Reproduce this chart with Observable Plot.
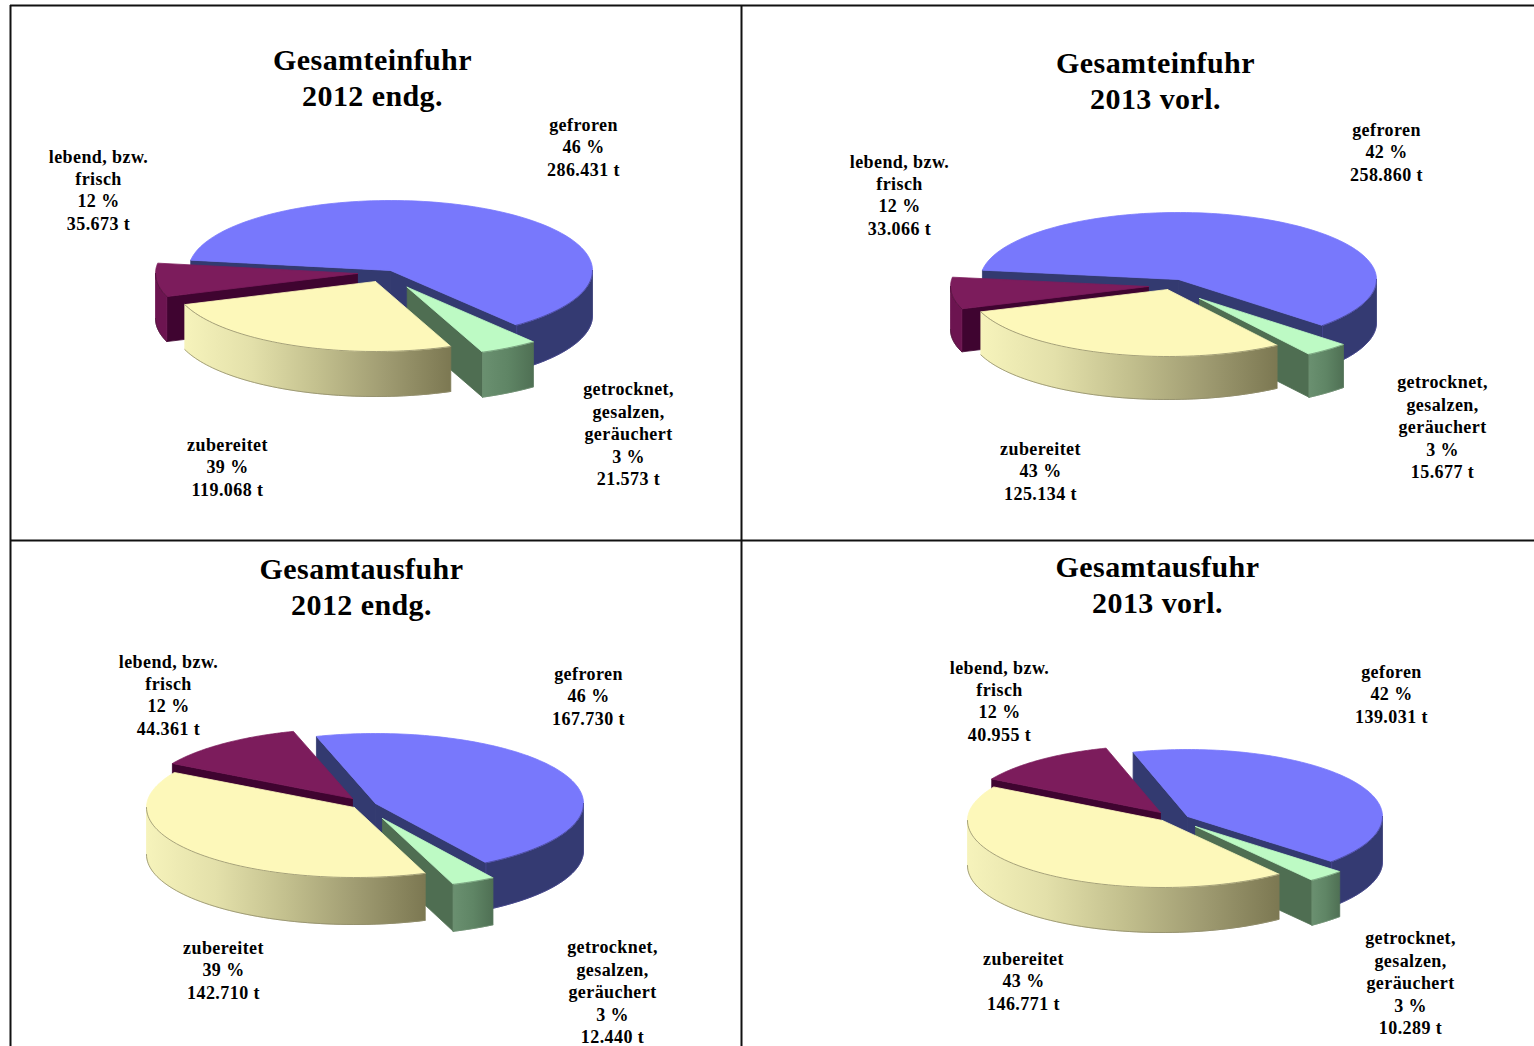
<!DOCTYPE html>
<html lang="de">
<head>
<meta charset="utf-8">
<title>Gesamteinfuhr und Gesamtausfuhr</title>
<script src="https://cdn.jsdelivr.net/npm/d3@7"></script>
<script src="https://cdn.jsdelivr.net/npm/@observablehq/plot@0.6"></script>
<style>
  html, body { margin: 0; padding: 0; background: #fff; overflow: hidden; }
  svg { display: block; }
  svg g[aria-label="text"] { letter-spacing: 0.42px; }
</style>
</head>
<body>
<div id="chart"></div>
<script>
// ---- values (tonnes), order: gefroren, getrocknet, zubereitet, lebend
const einfuhr2012 = [286431, 21573, 119068, 35673];
const einfuhr2013 = [258860, 15677, 125134, 33066];
const ausfuhr2012 = [167730, 12440, 142710, 44361];
const ausfuhr2013 = [139031, 10289, 146771, 40955];
const seriesValues = [einfuhr2012, einfuhr2013, ausfuhr2012, ausfuhr2013];

const percentA = ["46 %", "3 %", "39 %", "12 %"];
const percentB = ["42 %", "3 %", "43 %", "12 %"];
const panelPercents = [percentA, percentB, percentA, percentB];

const namesStandard = ["gefroren", "getrocknet,\ngesalzen,\ngeräuchert", "zubereitet", "lebend, bzw.\nfrisch"];
const namesTypo = ["geforen", "getrocknet,\ngesalzen,\ngeräuchert", "zubereitet", "lebend, bzw.\nfrisch"];
const panelNames = [namesStandard, namesStandard, namesStandard, namesTypo];

const panelTitles = ["Gesamteinfuhr\n2012 endg.", "Gesamteinfuhr\n2013 vorl.", "Gesamtausfuhr\n2012 endg.", "Gesamtausfuhr\n2013 vorl."];

// ---- layout, in the picture's own coordinate system
const titleAnchors = [[372, 76], [1155, 79], [361, 585], [1157, 583]];
const labelAnchors = [
  [[583, 145.5], [628, 432.5], [227, 465.5], [98, 188.5]],
  [[1386, 150.5], [1442, 425.5], [1040, 469.5], [899, 193.5]],
  [[588, 694.5], [612, 990.5], [223, 968.5], [168, 693.5]],
  [[1391, 692.5], [1410, 981.5], [1023, 979.5], [999, 699.5]]
];
const sliceCentres = [
  [[390, 270], [406.7, 286.7], [375, 281], [357, 273]],
  [[1178, 279], [1199, 298], [1167, 289], [1148, 286]],
  [[375, 803], [382, 818], [354, 807], [352, 798]],
  [[1187, 816], [1195, 826], [1162, 820], [1160, 812]]
];
const radiusX = [202, 198, 208, 195];
const radiusY = [70, 67, 70, 67];
const wallDepth = [45, 43, 47, 45];
const firstAngle = [188.5, 188, 253.5, 253.8];
const paintOrder = [0, 1, 3, 2];

const topColors = ["#7878fc", "#bdfac4", "#fdf8ba", "#7c1c5c"];
const radialColors = ["#333a70", "#4f6e52", "#b5b283", "#3f0430"];
const wallRamps = [
  ["#343a72", "#343a72"],
  ["#6a9070", "#5f8565", "#4f7054"],
  ["#f6f3bb", "#e3e0aa", "#c3c08e", "#a09c72", "#7c7852"],
  ["#6c1450", "#6c1450"]
];

const frameX = [10, 741];
const frameY = [5, 540];
const FULL_W = 1534, FULL_H = 1046;

// ---- turn pie angles into projected faces
const rad = d => d * Math.PI / 180;
const points = [];
const gradients = [];
let faceId = 0;
function addFace(pts, fill, stroke) {
  const id = faceId++;
  pts.forEach(([x, y]) => points.push({ id, x, y, fill, stroke }));
}

seriesValues.forEach((values, p) => {
  const arcs = d3.pie().sort(null)
    .startAngle(rad(firstAngle[p]))
    .endAngle(rad(firstAngle[p] + 360))(values);
  const rx = radiusX[p], ry = radiusY[p], depth = wallDepth[p];

  paintOrder.forEach(s => {
    const [cx, cy] = sliceCentres[p][s];
    const a = arcs[s].startAngle, b = arcs[s].endAngle;
    const at = (t, dz = 0) => [cx + rx * Math.cos(t), cy + ry * Math.sin(t) + dz];

    // radial walls
    for (const [t, show] of [[a, Math.cos(a) < 0], [b, Math.cos(b) > 0]]) {
      if (!show) continue;
      const e = at(t);
      addFace([[cx, cy], e, [e[0], e[1] + depth], [cx, cy + depth], [cx, cy]], radialColors[s], radialColors[s]);
    }

    // curved outer wall: only the part facing the viewer
    const visible = [];
    for (const k of [0, 2 * Math.PI, 4 * Math.PI]) {
      const lo = Math.max(a, k), hi = Math.min(b, k + Math.PI);
      if (hi > lo) visible.push([lo, hi]);
    }
    visible.forEach(([lo, hi], v) => {
      const top = d3.range(0, 81).map(i => at(lo + (hi - lo) * i / 80));
      const bottom = top.map(([x, y]) => [x, y + depth]).reverse();
      const [xMin, xMax] = d3.extent(top, d => d[0]);
      const gid = `wall-${p}-${s}-${v}`;
      gradients.push({ gid, xMin, xMax, ramp: wallRamps[s] });
      addFace([...top, ...bottom, top[0]], `url(#${gid})`, `url(#${gid})`);
    });

    // top face
    const rim = d3.range(0, 121).map(i => at(a + (b - a) * i / 120));
    addFace([[cx, cy], ...rim, [cx, cy]], topColors[s], topColors[s]);

    // darker rims on the faces nearest the viewer
    const edge = d3.rgb(topColors[s]).darker(1.6).formatHex();
    visible.forEach(([lo, hi]) => {
      addFace(d3.range(0, 61).map(i => at(lo + (hi - lo) * i / 60)), "none", edge);
      addFace(d3.range(0, 61).map(i => at(lo + (hi - lo) * i / 60, depth)), "none", edge);
    });
    if (Math.cos(b) > 0 && b % (2 * Math.PI) < Math.PI) {
      const e = at(b);
      addFace([e, [e[0], e[1] + depth]], "none", edge);
    }
  });
});

// ---- gradients for the curved walls, added as a small custom mark
function gradientDefs() {
  const NS = "http://www.w3.org/2000/svg";
  const defs = document.createElementNS(NS, "defs");
  gradients.forEach(({ gid, xMin, xMax, ramp }) => {
    const g = document.createElementNS(NS, "linearGradient");
    g.setAttribute("id", gid);
    g.setAttribute("gradientUnits", "userSpaceOnUse");
    g.setAttribute("x1", xMin);
    g.setAttribute("x2", xMax);
    g.setAttribute("y1", 0);
    g.setAttribute("y2", 0);
    ramp.forEach((color, i) => {
      const stop = document.createElementNS(NS, "stop");
      stop.setAttribute("offset", i / (ramp.length - 1));
      stop.setAttribute("stop-color", color);
      g.append(stop);
    });
    defs.append(g);
  });
  return defs;
}

// ---- text
const titleRows = panelTitles.map((text, p) => ({ text, x: titleAnchors[p][0], y: titleAnchors[p][1] }));
const tonnes = v => d3.format(",")(v).replace(/,/g, ".") + " t";
const labelRows = seriesValues.flatMap((values, p) => values.map((v, s) => ({
  text: `${panelNames[p][s]}\n${panelPercents[p][s]}\n${tonnes(v)}`,
  x: labelAnchors[p][s][0],
  y: labelAnchors[p][s][1]
})));

const serif = "'Liberation Serif', 'Times New Roman', serif";

const chart = Plot.plot({
  width: FULL_W,
  height: FULL_H,
  margin: 0,
  x: { domain: [0, FULL_W], range: [0, FULL_W], axis: null },
  y: { domain: [0, FULL_H], range: [0, FULL_H], axis: null },
  color: { type: "identity" },
  style: { background: "#fff", fontFamily: serif },
  marks: [
    gradientDefs,
    Plot.line(points, {
      x: "x", y: "y", z: "id",
      fill: "fill", stroke: "stroke",
      strokeWidth: 0.8, strokeLinejoin: "round", curve: "linear"
    }),
    Plot.ruleX(frameX, { x: d => d, y1: frameY[0], y2: FULL_H, stroke: "#111", strokeWidth: 2 }),
    Plot.ruleY(frameY, { y: d => d, x1: frameX[0], x2: FULL_W, stroke: "#111", strokeWidth: 2 }),
    Plot.text(titleRows, {
      x: "x", y: "y", text: "text",
      fontSize: 30, fontWeight: "bold", fill: "#000",
      lineHeight: 1.19, textAnchor: "middle", lineAnchor: "middle",
      fontFamily: serif
    }),
    Plot.text(labelRows, {
      x: "x", y: "y", text: "text",
      fontSize: 18, fontWeight: "bold", fill: "#000",
      lineHeight: 1.245, textAnchor: "middle", lineAnchor: "middle",
      fontFamily: serif
    })
  ]
});
document.getElementById("chart").append(chart);
</script>
</body>
</html>
